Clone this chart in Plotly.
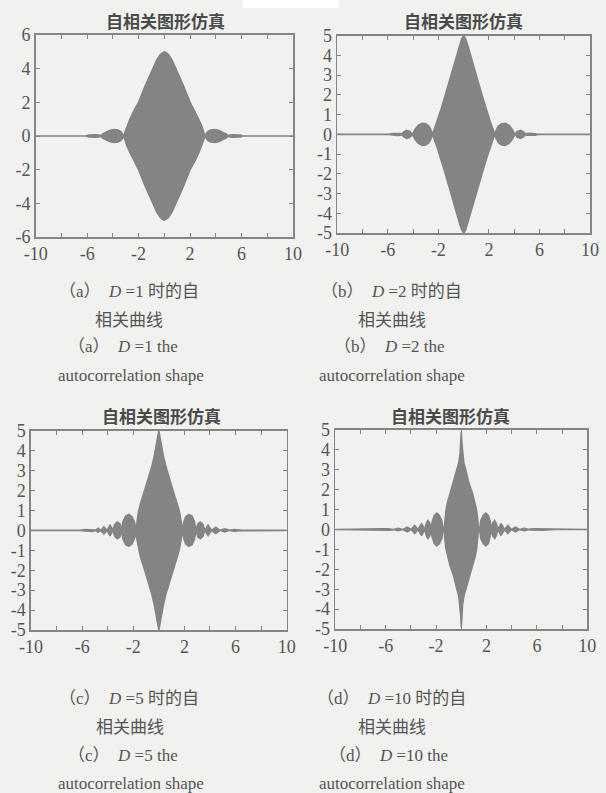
import plotly.graph_objects as go

W, H = 606, 793

# ---------------- data: envelope of the autocorrelation ----------
x_a = [-10, -6.1, -5.9, -5.6, -5.3, -5.0, -4.95, -4.8, -4.5, -4.2, -3.9, -3.6, -3.4, -3.25, -3.15,
       -3.05, -2.9, -2.7, -2.4, -2.0, -1.5, -1.0, -0.6, -0.3, -0.1, 0,
       0.1, 0.3, 0.6, 1.0, 1.5, 2.0, 2.4, 2.7, 2.9, 3.05, 3.15,
       3.25, 3.4, 3.6, 3.9, 4.2, 4.5, 4.8, 4.95, 5.0, 5.3, 5.6, 5.9, 6.1, 10]
env_a = [0, 0, 0.06, 0.08, 0.07, 0.04, 0, 0.12, 0.25, 0.34, 0.38, 0.36, 0.28, 0.14, 0,
         0.25, 0.6, 0.95, 1.45, 2.0, 2.95, 3.85, 4.5, 4.85, 4.98, 5.0,
         4.98, 4.85, 4.5, 3.85, 2.95, 2.0, 1.45, 0.95, 0.6, 0.25, 0,
         0.14, 0.28, 0.36, 0.38, 0.34, 0.25, 0.12, 0, 0.04, 0.07, 0.08, 0.06, 0, 0]

x_b = [-10, -5.9, -5.7, -5.3, -5.0, -4.92, -4.75, -4.5, -4.25, -4.06,
       -3.85, -3.6, -3.3, -3.0, -2.75, -2.58, -2.45,
       -2.3, -2.1, -1.8, -1.5, -1.2, -0.9, -0.6, -0.35, -0.15, 0,
       0.15, 0.35, 0.6, 0.9, 1.2, 1.5, 1.8, 2.1, 2.3, 2.45,
       2.58, 2.75, 3.0, 3.3, 3.6, 3.85, 4.06, 4.25, 4.5, 4.75, 4.92,
       5.0, 5.3, 5.7, 5.9, 10]
env_b = [0, 0, 0.04, 0.05, 0.04, 0, 0.12, 0.2, 0.15, 0,
         0.25, 0.45, 0.56, 0.54, 0.42, 0.22, 0,
         0.3, 0.65, 1.25, 1.9, 2.55, 3.2, 3.85, 4.45, 4.85, 5.0,
         4.85, 4.45, 3.85, 3.2, 2.55, 1.9, 1.25, 0.65, 0.3, 0,
         0.22, 0.42, 0.54, 0.56, 0.45, 0.25, 0, 0.15, 0.2, 0.12, 0,
         0.04, 0.05, 0.04, 0, 0]

x_c = [-10, -6.2, -5.7, -5.2, -4.98, -4.95, -4.75, -4.55, -4.3, -4.05, -3.82, -3.6,
       -3.45, -3.25, -3.05, -2.92, -2.8, -2.6, -2.35, -2.1, -1.9, -1.8,
       -1.7, -1.6, -1.45, -1.2, -0.9, -0.55, -0.35, -0.2, -0.08, 0,
       0.08, 0.2, 0.35, 0.55, 0.9, 1.2, 1.45, 1.62, 1.75, 1.82,
       1.95, 2.1, 2.35, 2.6, 2.78, 2.9, 3.05, 3.25, 3.45, 3.58,
       3.85, 4.12, 4.45, 4.78, 5.15, 5.55, 5.9, 6.3, 6.5, 10]
env_c = [0, 0, 0.04, 0.05, 0.02, 0, 0.1, 0, 0.17, 0, 0.28, 0,
         0.3, 0.42, 0.33, 0, 0.45, 0.72, 0.8, 0.68, 0.4, 0,
         0.5, 0.9, 1.3, 1.8, 2.4, 3.2, 3.75, 4.25, 4.7, 5.0,
         4.7, 4.25, 3.75, 3.2, 2.4, 1.8, 1.3, 0.9, 0.4, 0,
         0.4, 0.68, 0.8, 0.72, 0.45, 0, 0.33, 0.42, 0.3, 0,
         0.26, 0, 0.16, 0, 0.08, 0, 0.04, 0.02, 0, 0]

x_d = [-10, -7.5, -6.5, -5.8, -5.45, -5.4, -5.0, -4.62, -4.3, -3.98, -3.7, -3.43,
       -3.15, -2.9, -2.78, -2.65, -2.5, -2.42, -2.3, -2.15, -1.95, -1.75, -1.55, -1.45,
       -1.36, -1.3, -1.22, -1.1, -0.9, -0.6, -0.35, -0.2, -0.1, -0.05, 0,
       0.05, 0.1, 0.2, 0.35, 0.6, 0.9, 1.1, 1.22, 1.3, 1.36,
       1.45, 1.55, 1.75, 1.95, 2.15, 2.3, 2.42, 2.5, 2.65, 2.78, 2.9,
       3.15, 3.43, 3.7, 3.98, 4.3, 4.62, 5.0, 5.4, 5.45, 5.8, 6.5, 7.5, 10]
env_d = [0, 0, 0.03, 0.04, 0.02, 0, 0.06, 0, 0.12, 0, 0.2, 0,
         0.3, 0, 0.3, 0.45, 0.32, 0, 0.4, 0.7, 0.82, 0.72, 0.45, 0,
         0, 0.5, 0.95, 1.35, 1.8, 2.35, 3.0, 3.35, 3.8, 4.3, 4.9,
         4.3, 3.8, 3.35, 3.0, 2.35, 1.8, 1.35, 0.95, 0.5, 0,
         0, 0.45, 0.72, 0.82, 0.7, 0.4, 0, 0.32, 0.45, 0.3, 0,
         0.3, 0, 0.2, 0, 0.12, 0, 0.06, 0, 0.02, 0.04, 0.03, 0, 0]

panels = [(x_a, env_a), (x_b, env_b), (x_c, env_c), (x_d, env_d)]

title_text = "自相关图形仿真"
x_tickvals = [-10, -8, -6, -4, -2, 0, 2, 4, 6, 8, 10]
x_ticktext = ["-10", "", "-6", "", "-2", "", "2", "", "6", "", "10"]
y_ticks_a = [-6, -4, -2, 0, 2, 4, 6]
y_ticks_bcd = [-5, -4, -3, -2, -1, 0, 1, 2, 3, 4, 5]

captions = [
    ["（a）  <i>D</i> =1 时的自", "相关曲线", "（a）  <i>D</i> =1 the", "autocorrelation shape"],
    ["（b）  <i>D</i> =2 时的自", "相关曲线", "（b）  <i>D</i> =2 the", "autocorrelation shape"],
    ["（c）  <i>D</i> =5 时的自", "相关曲线", "（c）  <i>D</i> =5 the", "autocorrelation shape"],
    ["（d）  <i>D</i> =10 时的自", "相关曲线", "（d）  <i>D</i> =10 the", "autocorrelation shape"],
]

# ---------------- styling / layout ----------------
BG = "#f1f1ef"
FILL = "#848484"
AX = "#858585"
TXT = "#555555"
SERIF = "Liberation Serif, Noto Sans CJK SC, serif"
CJK = "Noto Sans CJK SC, sans-serif"

# plot boxes in pixels: left, right, top, bottom
boxes = [(35.7, 293, 35, 237), (337.3, 590, 35.7, 233),
         (31, 286.7, 430.7, 630), (335.3, 587.3, 430, 629)]
title_pos = [(165, 20), (463, 20), (161, 415), (450, 415)]
cap_x = [[129, 129, 123, 131], [391, 392, 389, 392], [129, 130, 123, 131], [391, 392, 388, 392]]
cap_y = [[291.7, 320, 346.7, 375], [291.7, 320, 346.7, 375],
         [698, 727, 755, 783], [698, 727, 755, 783]]

fig = go.Figure()
layout = dict(width=W, height=H, margin=dict(l=0, r=0, t=0, b=0, pad=0, autoexpand=False),
              paper_bgcolor=BG, plot_bgcolor=BG, showlegend=False)
annotations = []

for i, (xs, env) in enumerate(panels):
    n = "" if i == 0 else str(i + 1)
    px = xs + xs[::-1]
    py = env + [-v for v in env[::-1]]
    fig.add_trace(go.Scatter(x=px, y=py, mode="lines", fill="toself", fillcolor=FILL,
                             line=dict(color=FILL, width=1.6), xaxis="x" + n, yaxis="y" + n,
                             hoverinfo="skip"))
    l, r, t, b = boxes[i]
    yt = y_ticks_a if i == 0 else y_ticks_bcd
    common = dict(ticks="inside", ticklen=4, tickwidth=1, tickcolor=AX, showline=True,
                  linecolor=AX, linewidth=1.6, mirror="ticks", showgrid=False, zeroline=False,
                  automargin=False,
                  tickfont=dict(family=SERIF, size=18, color=TXT), fixedrange=True)
    layout["xaxis" + n] = dict(domain=[l / W, r / W], range=[-10, 10], tickvals=x_tickvals,
                               ticktext=x_ticktext, anchor="y" + n, **common)
    layout["yaxis" + n] = dict(domain=[1 - b / H, 1 - t / H], range=[yt[0], yt[-1]],
                               tickvals=yt, ticktext=[str(v) for v in yt],
                               anchor="x" + n, **common)
    tx, ty = title_pos[i]
    annotations.append(dict(x=tx / W, y=1 - ty / H, xref="paper", yref="paper",
                            text=title_text, showarrow=False, xanchor="center", yanchor="middle",
                            font=dict(family=CJK, size=17, color="#4a4a4a", weight="bold")))
    for j, line in enumerate(captions[i]):
        annotations.append(dict(x=cap_x[i][j] / W, y=1 - cap_y[i][j] / H, xref="paper",
                                yref="paper", text=line, showarrow=False, xanchor="center",
                                yanchor="middle", font=dict(family=SERIF, size=17, color=TXT)))

layout["annotations"] = annotations
layout["shapes"] = [dict(type="rect", xref="paper", yref="paper", x0=243 / W, x1=339 / W,
                         y0=1 - 8 / H, y1=1, fillcolor="white", line=dict(width=0), layer="above")]
fig.update_layout(**layout)
fig.write_html("out.html", config={"displayModeBar": False, "staticPlot": True},
               post_script="document.body.style.margin='0';document.body.style.overflow='hidden';")
